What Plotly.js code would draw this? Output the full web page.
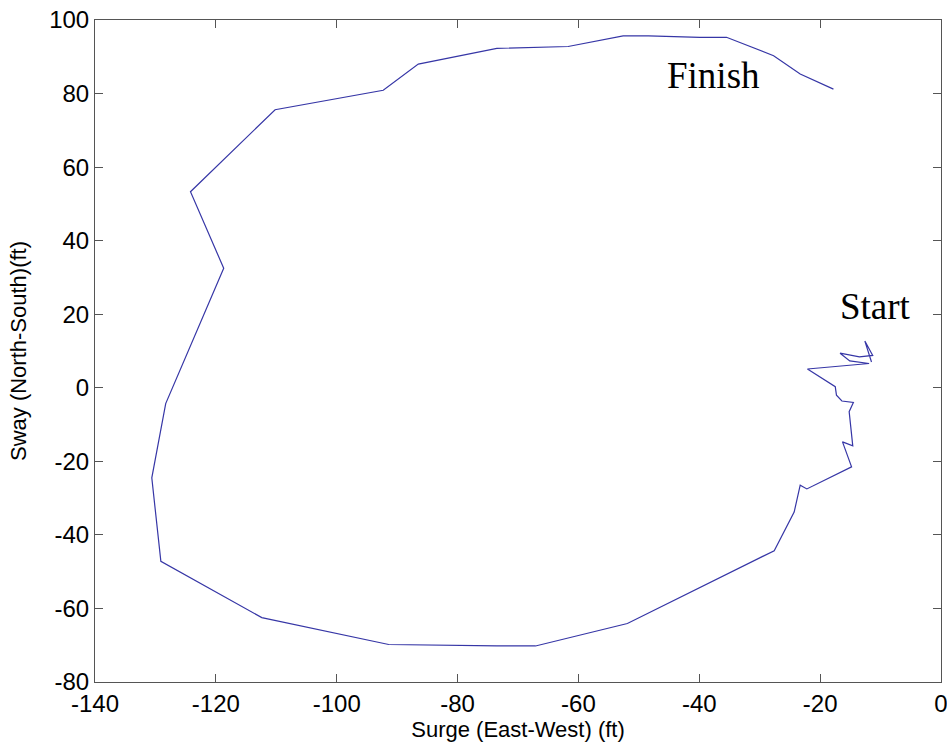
<!DOCTYPE html>
<html>
<head>
<meta charset="utf-8">
<script src="https://cdn.plot.ly/plotly-3.0.1.min.js"></script>
<style>
  html, body { margin: 0; padding: 0; background: #ffffff; }
  #chart { width: 947px; height: 746px; }
</style>
</head>
<body>
<div id="chart"></div>
<script>
// Vessel track, from the start point near (-12, 8) round to the finish near (-18, 81)
const surgeFt = [
  -11.5, -12.6, -11.3, -13.5, -16.7, -15.1, -11.9, -22.1, -17.5, -17.3,
  -16.4, -14.5, -15.2, -14.6, -16.3, -14.8, -22.2, -23.3, -24.3, -27.6,
  -51.9, -67.1, -73.5, -84.9, -91.4, -112.4, -129.1, -130.6, -128.3, -118.7,
  -124.2, -110.2, -92.3, -86.5, -73.5, -61.7, -52.6, -48.4, -39.9, -35.5,
  -27.7, -23.3, -17.8
];
const swayFt = [
  7.0, 12.7, 8.8, 8.4, 9.4, 7.3, 6.6, 5.1, 0.3, -2.0,
  -3.6, -4.0, -6.5, -15.8, -14.7, -21.5, -27.5, -26.5, -33.8, -44.3,
  -64.1, -70.2, -70.2, -70.0, -69.8, -62.5, -47.2, -24.5, -4.3, 32.5,
  53.3, 75.6, 80.9, 88.0, 92.3, 92.8, 95.7, 95.7, 95.3, 95.3,
  90.3, 85.3, 81.2
];

const xTicks = [-140, -120, -100, -80, -60, -40, -20, 0];
const yTicks = [-80, -60, -40, -20, 0, 20, 40, 60, 80, 100];

const markerLabels = ["Start", "Finish"];
const markerX = [-10.8, -37.7];
const markerY = [22.0, 85.0];

const sansFont = { family: "Liberation Sans, Arial, sans-serif", color: "#000000" };

const axisCommon = {
  showgrid: false,
  zeroline: false,
  showline: true,
  linecolor: "#555555",
  linewidth: 1,
  mirror: "ticks",
  ticks: "inside",
  ticklen: 8,
  tickcolor: "#555555",
  ticklabeloverflow: "allow",
  tickfont: Object.assign({ size: 24 }, sansFont)
};

const trace = {
  type: "scatter",
  mode: "lines",
  x: surgeFt,
  y: swayFt,
  line: { color: "#3636a6", width: 1.2 },
  hoverinfo: "skip"
};

const layout = {
  width: 947,
  height: 746,
  margin: { l: 95, r: 6, t: 20, b: 64 },
  paper_bgcolor: "#ffffff",
  plot_bgcolor: "#ffffff",
  showlegend: false,
  xaxis: Object.assign({}, axisCommon, {
    range: [-140, 0],
    tickvals: xTicks,
    ticktext: xTicks.map(String),
    title: { text: "Surge (East-West) (ft)", font: Object.assign({ size: 22 }, sansFont), standoff: 5 }
  }),
  yaxis: Object.assign({}, axisCommon, {
    range: [-80, 100],
    tickvals: yTicks,
    ticktext: yTicks.map(String),
    title: { text: "Sway (North-South)(ft)", font: Object.assign({ size: 22 }, sansFont), standoff: 16 }
  }),
  annotations: markerLabels.map((t, i) => ({
    x: markerX[i],
    y: markerY[i],
    xref: "x",
    yref: "y",
    text: t,
    showarrow: false,
    font: { family: "Liberation Serif, Times New Roman, serif", size: 37, color: "#000000" }
  }))
};

Plotly.newPlot("chart", [trace], layout, { displayModeBar: false, staticPlot: true });
</script>
</body>
</html>
